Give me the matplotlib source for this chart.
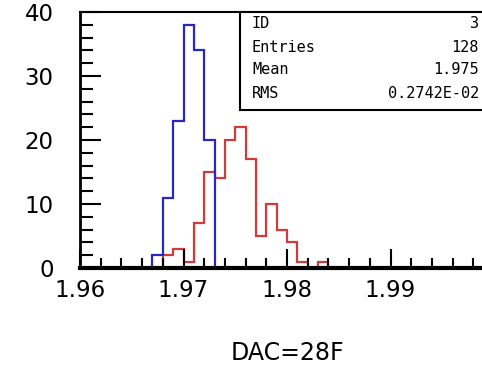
import matplotlib
matplotlib.use("Agg")
import matplotlib.pyplot as plt
import numpy as np
from matplotlib.ticker import MultipleLocator, FuncFormatter
from matplotlib.patches import Rectangle

# ---- data ----
blue_edges_start = 1.967
bin_width = 0.001
blue_counts = [2, 11, 23, 38, 34, 20]
red_edges_start = 1.968
red_counts = [2, 3, 1, 7, 15, 14, 20, 22, 17, 5, 10, 6, 4, 1, 0, 1]
x_tick_labels = ["1.96", "1.97", "1.98", "1.99"]
stats_labels = ["ID", "Entries", "Mean", "RMS"]
stats_values = ["3", "128", "1.975", "0.2742E-02"]
x_label = "DAC=28F"

blue_edges = blue_edges_start + bin_width * np.arange(len(blue_counts) + 1)
red_edges = red_edges_start + bin_width * np.arange(len(red_counts) + 1)

W, H = 482, 369
fig = plt.figure(figsize=(W / 100, H / 100), dpi=100)
ax = fig.add_axes([80 / W, (H - 268) / H, 414 / W, 256 / H])

ax.stairs(red_counts, red_edges, color="#d03c3c", linewidth=1.6, baseline=0)
ax.stairs(blue_counts, blue_edges, color="#2828c0", linewidth=1.6, baseline=0)

ax.set_xlim(1.96, 2.0)
ax.set_ylim(0, 40)

ax.xaxis.set_major_locator(MultipleLocator(0.01))
ax.xaxis.set_minor_locator(MultipleLocator(0.002))
ax.yaxis.set_major_locator(MultipleLocator(10))
ax.yaxis.set_minor_locator(MultipleLocator(2))


def xfmt(v, p):
    s = f"{v:.2f}"
    return s if s in x_tick_labels else ""


ax.xaxis.set_major_formatter(FuncFormatter(xfmt))
ax.yaxis.set_major_formatter(FuncFormatter(lambda v, p: f"{v:.0f}"))

ax.tick_params(axis="both", which="both", direction="in", top=False, right=False,
               color="black", width=1.5)
ax.tick_params(axis="x", which="major", length=14, pad=8, labelsize=16.5)
ax.tick_params(axis="x", which="minor", length=7)
ax.tick_params(axis="y", which="major", length=15, pad=19, labelsize=16.5)
ax.tick_params(axis="y", which="minor", length=9)

ax.spines["bottom"].set_linewidth(3)
ax.spines["left"].set_linewidth(2)
ax.spines["top"].set_linewidth(1.5)
ax.spines["right"].set_linewidth(1.5)

# stats box
bx0 = 160 / 414
by0 = (268 - 110) / 256
ax.add_patch(Rectangle((bx0, by0), 1.0 - bx0, 1.0 - by0, transform=ax.transAxes,
                       fill=True, facecolor="white", edgecolor="black",
                       linewidth=1.5, zorder=5, clip_on=False))
row_y = [23, 48, 70, 94]
for lab, val, yy in zip(stats_labels, stats_values, row_y):
    fy = (268 - yy) / 256
    ax.text((252 - 80) / 414, fy, lab, transform=ax.transAxes, ha="left",
            va="center", fontsize=11, family="DejaVu Sans Mono", zorder=6)
    ax.text((479 - 80) / 414, fy, val, transform=ax.transAxes, ha="right",
            va="center", fontsize=11, family="DejaVu Sans Mono", zorder=6)

fig.text(287 / W, 1 - 353 / H, x_label, ha="center", va="center", fontsize=17)

fig.savefig("out.png", dpi=100, facecolor="white")
